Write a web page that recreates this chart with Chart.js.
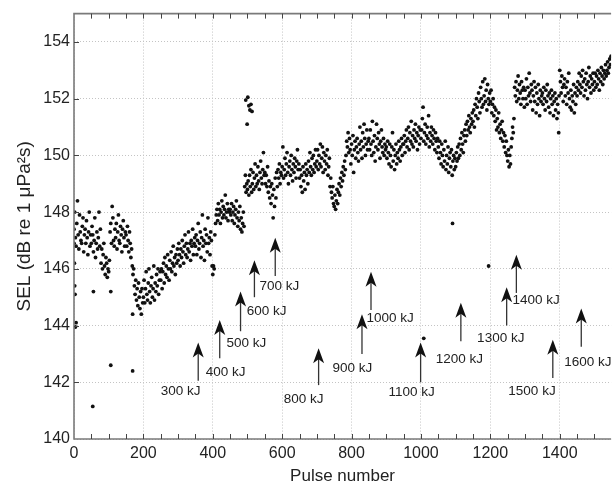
<!DOCTYPE html>
<html>
<head>
<meta charset="utf-8">
<script src="https://cdn.jsdelivr.net/npm/chart.js@4"></script>
<style>
  html, body { margin: 0; padding: 0; background: #fff; }
  #wrap { width: 613px; height: 485px; }
</style>
</head>
<body>
<div id="wrap"><canvas id="selChart"></canvas></div>
<script>
// SEL of each pulse, one value every 2 pulses (row = 50 pulses)
const pulseStep = 2;
const selMain = [
  147.4, 148.0, 147.1, 146.8, 147.6, 148.4, 147.2, 146.7, 147.9, 147.3, 147.0, 146.9, 147.5, 147.8, 146.6, 147.2, 147.4, 146.9, 147.7, 147.1, 146.5, 147.3, 148.0, 146.8, 147.2,
  146.9, 147.5, 147.2, 146.6, 147.0, 147.8, 146.4, 146.9, 147.3, 146.7, 147.1, 148.0, 146.8, 147.4, 146.2, 146.7, 146.0, 146.5, 146.9, 146.1, 145.8, 146.4, 146.2, 145.7, 146.0,
  145.9, 146.3, 147.3, 147.6, 146.9, 148.2, 147.8, 147.0, 146.8, 147.4, 147.1, 147.6, 146.7, 147.3, 147.9, 147.0, 146.9, 147.5, 147.2, 146.6, 147.4, 147.7, 147.1, 146.8, 147.3,
  147.2, 146.8, 147.5, 147.0, 146.6, 147.3, 146.9, 146.4, 146.7, 146.1, 145.8, 146.0, 145.4, 145.1, 145.6, 144.9, 145.3, 144.7, 145.5, 145.0, 144.6, 145.2, 144.4, 145.3, 144.8,
  145.0, 145.6, 144.8, 145.3, 145.9, 145.1, 144.9, 145.5, 146.0, 145.2, 144.8, 145.4, 145.7, 145.0, 145.3, 146.1, 144.9, 145.5, 145.2, 145.8, 145.4, 146.0, 145.1, 145.6, 145.9,
  145.6, 146.0, 145.3, 145.9, 146.2, 145.5, 146.4, 145.8, 146.1, 145.7, 146.5, 146.0, 145.6, 146.3, 146.0, 146.6, 145.9, 146.2, 146.8, 146.1, 146.4, 145.8, 146.5, 146.2, 146.7,
  146.3, 146.9, 146.5, 146.1, 146.7, 146.4, 147.0, 146.6, 146.2, 146.8, 147.2, 146.5, 146.9, 146.4, 146.7, 147.3, 146.6, 146.9, 146.3, 147.0, 146.8, 147.4, 146.5, 146.9, 147.1,
  146.8, 147.2, 146.5, 147.0, 147.6, 146.7, 146.9, 147.3, 146.4, 147.1, 147.9, 146.8, 147.0, 146.3, 147.4, 146.9, 147.2, 146.6, 147.8, 146.9, 147.1, 146.5, 147.3, 147.0, 146.1,
  145.8, 146.1, 146.0, 147.2, 147.6, 147.9, 148.1, 147.7, 148.3, 147.9, 148.1, 147.6, 148.0, 148.4, 147.8, 148.2, 147.9, 148.1, 148.6, 147.8, 148.0, 148.3, 147.7, 148.1, 148.0,
  148.1, 147.9, 148.3, 147.7, 148.0, 148.2, 147.6, 147.9, 148.1, 148.4, 147.8, 147.5, 148.0, 147.7, 148.2, 147.4, 147.8, 147.3, 147.6, 148.0, 147.5, 148.9, 149.3, 148.7, 149.0,
  148.8, 149.1, 148.6, 149.3, 148.9, 149.5, 148.7, 149.0, 149.4, 148.8, 149.2, 149.7, 148.9, 149.3, 149.0, 149.6, 149.1, 148.8, 149.4, 149.8, 149.2, 149.0, 149.5, 150.1, 149.3,
  149.4, 149.0, 149.3, 148.9, 149.6, 148.7, 149.1, 148.5, 148.9, 148.3, 149.0, 148.6, 147.8, 148.8, 148.2, 149.2, 148.5, 149.4, 148.9, 149.5, 149.2, 149.7, 149.0, 149.4, 149.3,
  149.6, 150.3, 149.2, 149.5, 149.9, 149.3, 149.7, 150.1, 149.4, 149.0, 149.6, 149.8, 149.3, 150.0, 149.5, 149.1, 149.7, 149.4, 149.9, 149.6, 149.2, 149.8, 150.2, 149.5, 149.7,
  149.2, 149.5, 148.9, 149.3, 148.7, 149.6, 149.1, 149.4, 148.8, 149.7, 149.3, 149.5, 149.0, 149.8, 149.4, 150.1, 149.6, 149.3, 149.9, 149.5, 150.0, 149.4, 149.7, 150.2, 149.6,
  149.8, 150.2, 149.5, 150.0, 149.7, 150.4, 149.6, 149.9, 150.3, 149.4, 150.1, 149.8, 149.5, 150.0, 149.7, 150.2, 149.3, 149.6, 149.9, 148.9, 149.2, 148.7, 148.5, 148.9, 148.3,
  148.2, 148.6, 148.1, 148.4, 148.8, 148.3, 148.7, 149.0, 148.6, 149.2, 148.9, 149.4, 149.1, 149.6, 149.3, 149.8, 149.5, 150.0, 150.5, 150.3, 150.8, 150.1, 150.6, 150.2, 149.7,
  150.4, 150.0, 150.7, 149.4, 150.2, 150.5, 149.9, 150.3, 150.6, 150.1, 149.8, 150.4, 151.0, 150.2, 150.5, 149.9, 150.8, 150.3, 151.1, 150.6, 150.0, 150.4, 150.9, 150.2, 150.5,
  150.6, 150.2, 150.9, 150.4, 150.0, 151.2, 150.5, 150.1, 150.7, 149.8, 150.3, 151.1, 150.6, 150.2, 150.8, 150.4, 149.9, 150.5, 150.9, 150.3, 150.1, 150.6, 150.0, 150.4, 150.2,
  150.3, 149.9, 150.5, 150.1, 149.7, 150.4, 150.0, 149.6, 150.3, 150.8, 149.8, 150.2, 149.5, 150.0, 150.4, 149.7, 150.1, 149.9, 150.5, 150.2, 149.8, 150.3, 150.6, 150.0, 150.4,
  150.4, 150.7, 150.1, 150.5, 150.9, 150.3, 150.6, 151.0, 150.2, 150.8, 150.5, 151.2, 150.4, 150.7, 150.3, 150.9, 150.6, 151.1, 150.5, 150.8, 150.2, 150.7, 151.0, 150.4, 150.9,
  150.6, 150.9, 151.3, 151.7, 150.5, 150.8, 151.1, 150.4, 150.7, 151.0, 150.6, 151.4, 150.3, 150.8, 150.5, 151.0, 150.7, 150.4, 150.9, 150.6, 150.2, 150.8, 150.5, 150.1, 150.6,
  150.3, 149.9, 150.5, 150.1, 149.7, 150.4, 150.0, 149.6, 150.2, 149.8, 150.5, 149.5, 150.0, 149.7, 150.3, 149.4, 149.9, 150.1, 149.6, 150.2, 149.3, 149.8, 150.0, 149.5, 149.9,
  149.6, 150.1, 149.8, 150.3, 149.9, 150.4, 150.0, 150.6, 150.2, 150.8, 150.4, 150.1, 150.7, 150.9, 150.5, 151.1, 150.7, 151.2, 150.9, 151.4, 151.0, 150.8, 151.3, 151.1, 151.5,
  151.2, 151.6, 151.0, 151.8, 151.4, 152.0, 151.7, 151.3, 152.2, 151.9, 151.5, 152.4, 152.0, 151.7, 152.6, 151.8, 152.1, 152.7, 151.9, 152.3, 151.6, 152.5, 152.0, 151.8, 152.2,
  151.9, 152.3, 151.5, 151.8, 152.0, 151.4, 151.7, 151.2, 151.6, 150.9, 151.3, 151.0, 151.5, 150.8, 151.1, 150.6, 150.9, 151.2, 150.5, 150.8, 150.3, 150.7, 150.1, 150.5, 150.0,
  149.8, 150.2, 149.6, 150.0, 149.7, 150.3, 150.6, 151.0, 150.8, 151.3, 152.4, 152.1, 152.6, 151.9, 152.3, 152.8, 152.0, 152.5, 152.2, 151.8, 152.6, 152.3, 152.0, 152.4, 151.7,
  152.3, 152.0, 152.7, 151.8, 152.4, 152.1, 152.9, 152.2, 151.9, 152.5, 152.3, 151.6, 152.1, 152.6, 151.9, 152.4, 151.5, 152.2, 151.8, 152.5, 152.0, 151.4, 152.3, 151.9, 152.1,
  152.2, 151.8, 152.4, 152.0, 151.6, 152.3, 151.9, 152.5, 152.1, 151.7, 152.2, 151.5, 152.0, 152.3, 151.8, 152.1, 151.4, 151.9, 152.2, 151.6, 152.0, 151.3, 151.8, 151.5, 152.1,
  153.0, 152.6, 152.2, 152.8, 152.4, 151.9, 152.5, 152.7, 152.1, 152.4, 151.8, 152.6, 152.2, 152.9, 152.0, 151.7, 152.3, 151.6, 152.1, 151.9, 152.5, 151.5, 152.2, 151.8, 152.4,
  152.1, 152.6, 152.3, 152.9, 152.5, 152.2, 152.8, 152.4, 153.0, 152.6, 152.1, 152.7, 152.3, 152.9, 152.5, 152.0, 152.6, 153.1, 152.4, 152.8, 152.2, 152.7, 152.5, 152.9, 152.3,
  152.6, 152.9, 152.4, 152.8, 152.5, 153.0, 152.7, 152.3, 152.9, 152.6, 153.1, 152.8, 152.5, 153.0, 152.7, 152.9, 153.2, 152.8, 153.0, 153.3, 152.9, 153.1, 153.4, 153.2, 153.5
];

// stray pulses away from the main cloud
const outlierPulse = [0, 1, 2, 3, 4, 6, 54, 56, 106, 106, 169, 169, 495, 499, 501, 504, 507, 510, 513, 1008, 1091, 1195, 1397];
const outlierSel = [146.9, 146.2, 145.4, 145.1, 143.95, 144.1, 141.15, 145.2, 142.6, 145.2, 142.4, 144.4, 151.95, 151.1, 152.05, 151.75, 151.6, 151.8, 151.55, 143.55, 147.6, 146.1, 150.8];

// hammer energy steps: arrow position (pulse), tip and tail SEL, label centre
const energyLabels = ['300 kJ', '400 kJ', '500 kJ', '600 kJ', '700 kJ', '800 kJ', '900 kJ', '1000 kJ', '1100 kJ', '1200 kJ', '1300 kJ', '1400 kJ', '1500 kJ', '1600 kJ'];
const arrowPulse = [358, 420, 480, 520, 580, 705, 830, 856, 999, 1115, 1247, 1275, 1380, 1462];
const arrowTip = [143.4, 144.2, 145.2, 146.3, 147.1, 143.2, 144.4, 145.9, 143.4, 144.8, 145.35, 146.5, 143.5, 144.6];
const arrowTail = [142.05, 142.85, 143.8, 145.0, 145.75, 141.9, 143.0, 144.55, 142.0, 143.45, 144.0, 145.15, 142.15, 143.25];
const labelPulse = [307, 437, 497, 555, 592, 662, 802, 911, 973, 1111, 1230, 1332, 1320, 1481];
const labelSel = [141.7, 142.36, 143.37, 144.5, 145.4, 141.4, 142.5, 144.24, 141.63, 142.8, 143.55, 144.9, 141.7, 142.7];

const points = selMain.map((v, i) => ({ x: i * pulseStep, y: v }))
  .concat(outlierPulse.map((p, i) => ({ x: p, y: outlierSel[i] })));

const fontFam = '"Liberation Sans", Arial, Helvetica, sans-serif';

// frame, inward ticks, arrows and energy labels
const overlay = {
  id: 'overlay',
  afterDatasetsDraw(chart) {
    const { ctx, chartArea: a, scales: { x, y } } = chart;
    ctx.save();
    ctx.strokeStyle = '#7a7a7a';
    ctx.lineWidth = 1.6;
    ctx.beginPath();
    ctx.moveTo(a.right, a.top);
    ctx.lineTo(a.left, a.top);
    ctx.lineTo(a.left, a.bottom);
    ctx.lineTo(a.right, a.bottom);
    ctx.stroke();

    ctx.strokeStyle = '#444';
    ctx.lineWidth = 1;
    ctx.beginPath();
    for (let p = 50; p < x.max; p += 50) {
      const px = Math.round(x.getPixelForValue(p)) + 0.5;
      ctx.moveTo(px, a.bottom); ctx.lineTo(px, a.bottom - 5);
      ctx.moveTo(px, a.top); ctx.lineTo(px, a.top + 5);
    }
    for (let v = 142; v < y.max; v += 2) {
      const py = Math.round(y.getPixelForValue(v)) + 0.5;
      ctx.moveTo(a.left, py); ctx.lineTo(a.left + 5, py);
    }
    ctx.stroke();

    energyLabels.forEach((txt, i) => {
      const px = x.getPixelForValue(arrowPulse[i]);
      const tip = y.getPixelForValue(arrowTip[i]);
      const tail = y.getPixelForValue(arrowTail[i]);
      ctx.strokeStyle = '#333';
      ctx.lineWidth = 1.3;
      ctx.beginPath();
      ctx.moveTo(px, tip + 10);
      ctx.lineTo(px, tail);
      ctx.stroke();
      ctx.fillStyle = '#111';
      ctx.beginPath();
      ctx.moveTo(px, tip);
      ctx.lineTo(px - 5.5, tip + 15);
      ctx.lineTo(px, tip + 11);
      ctx.lineTo(px + 5.5, tip + 15);
      ctx.closePath();
      ctx.fill();

      ctx.fillStyle = '#222';
      ctx.font = '13.5px ' + fontFam;
      ctx.textAlign = 'center';
      ctx.textBaseline = 'middle';
      ctx.fillText(txt, x.getPixelForValue(labelPulse[i]), y.getPixelForValue(labelSel[i]));
    });
    ctx.restore();
  }
};

new Chart(document.getElementById('selChart'), {
  type: 'scatter',
  data: {
    datasets: [{
      data: points,
      backgroundColor: '#111',
      borderWidth: 0,
      pointRadius: 1.9,
      pointHoverRadius: 1.9
    }]
  },
  options: {
    responsive: true,
    maintainAspectRatio: false,
    animation: false,
    devicePixelRatio: 1,
    layout: { padding: { top: 7, right: 0, left: 0, bottom: 0 } },
    plugins: { legend: { display: false }, tooltip: { enabled: false } },
    scales: {
      x: {
        type: 'linear',
        min: 0,
        max: 1548,
        afterFit: (s) => { s.height = 46; },
        ticks: {
          stepSize: 200, includeBounds: false, maxRotation: 0, padding: 5,
          color: '#222', font: { family: fontFam, size: 16 },
          callback: (v) => String(v)
        },
        grid: { color: '#c4c4c4', lineWidth: 1, drawTicks: false },
        border: { display: false, dash: [1, 2] },
        title: {
          display: true, text: 'Pulse number', color: '#222',
          font: { family: fontFam, size: 17, lineHeight: 1 }, padding: { top: 0, bottom: 0 }
        }
      },
      y: {
        min: 140,
        max: 155,
        afterFit: (s) => { s.width = 74; },
        ticks: {
          stepSize: 2, includeBounds: false, padding: 4,
          color: '#222', font: { family: fontFam, size: 16 },
          callback: (v) => String(v)
        },
        grid: { color: '#c4c4c4', lineWidth: 1, drawTicks: false },
        border: { display: false, dash: [1, 2] },
        title: {
          display: true, text: 'SEL (dB re 1 μPa²s)', color: '#222',
          font: { family: fontFam, size: 19, lineHeight: 1 }, padding: { top: 15, bottom: 0 }
        }
      }
    }
  },
  plugins: [overlay]
});
</script>
</body>
</html>
